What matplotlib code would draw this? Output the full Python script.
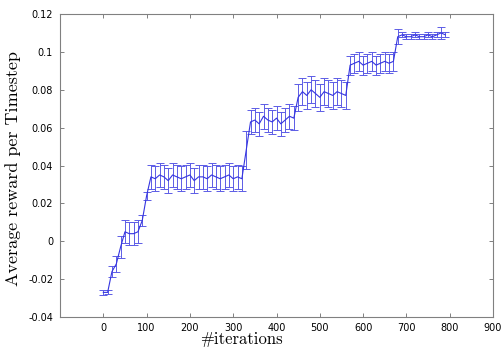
import matplotlib.pyplot as plt

iterations = [
    0, 10, 20, 30, 40, 50, 60, 70, 80, 90,
    100, 110, 120, 130, 140, 150, 160, 170, 180, 190,
    200, 210, 220, 230, 240, 250, 260, 270, 280, 290,
    300, 310, 320, 330, 340, 350, 360, 370, 380, 390,
    400, 410, 420, 430, 440, 450, 460, 470, 480, 490,
    500, 510, 520, 530, 540, 550, 560, 570, 580, 590,
    600, 610, 620, 630, 640, 650, 660, 670, 680, 690,
    700, 710, 720, 730, 740, 750, 760, 770, 780, 790,
]

mean_reward = [
    -0.027, -0.027, -0.016, -0.012, -0.003, 0.005, 0.004, 0.004, 0.005, 0.011,
    0.024, 0.034, 0.033, 0.035, 0.034, 0.032, 0.035, 0.034, 0.033, 0.034,
    0.035, 0.032, 0.034, 0.034, 0.033, 0.035, 0.034, 0.033, 0.034, 0.035,
    0.033, 0.034, 0.033, 0.048, 0.063, 0.064, 0.062, 0.066, 0.064, 0.063,
    0.065, 0.062, 0.064, 0.066, 0.065, 0.076, 0.079, 0.077, 0.080, 0.078,
    0.076, 0.079, 0.078, 0.077, 0.079, 0.078, 0.077, 0.093, 0.094, 0.095,
    0.093, 0.094, 0.095, 0.093, 0.094, 0.095, 0.094, 0.095, 0.108, 0.109,
    0.108, 0.108, 0.109, 0.108, 0.108, 0.109, 0.108, 0.109, 0.110, 0.109,
]

reward_err = [
    0.0015, 0.001, 0.003, 0.004, 0.006, 0.006, 0.006, 0.006, 0.006, 0.003,
    0.002, 0.0065, 0.0065, 0.0065, 0.0065, 0.0065, 0.0065, 0.0065, 0.0065, 0.0065,
    0.0065, 0.0065, 0.0065, 0.0065, 0.0065, 0.0065, 0.0065, 0.0065, 0.0065, 0.0065,
    0.0065, 0.0065, 0.0065, 0.010, 0.0065, 0.0065, 0.0065, 0.0065, 0.0065, 0.0065,
    0.0065, 0.0065, 0.0065, 0.0065, 0.0065, 0.007, 0.007, 0.007, 0.007, 0.007,
    0.007, 0.007, 0.007, 0.007, 0.007, 0.007, 0.007, 0.005, 0.005, 0.005,
    0.005, 0.005, 0.005, 0.005, 0.005, 0.005, 0.005, 0.005, 0.004, 0.0013,
    0.0013, 0.0013, 0.0013, 0.0013, 0.0013, 0.0013, 0.0013, 0.0013, 0.003, 0.0013,
]

xticks = [0, 100, 200, 300, 400, 500, 600, 700, 800, 900]
yticks = [-0.04, -0.02, 0, 0.02, 0.04, 0.06, 0.08, 0.1, 0.12]
ytick_labels = ['-0.04', '-0.02', '0', '0.02', '0.04', '0.06', '0.08', '0.1', '0.12']


def main():
    fig = plt.figure(figsize=(5.02, 3.49), dpi=100)
    ax = fig.add_axes([60 / 502, 1 - 317 / 349, 433 / 502, 303 / 349])

    ax.errorbar(iterations, mean_reward, yerr=reward_err, color='#3535e0',
                ecolor='#5c5ce6', elinewidth=0.7, lw=0.8, capsize=3, capthick=0.7)

    ax.set_xlim(-100, 900)
    ax.set_ylim(-0.04, 0.12)
    ax.set_xticks(xticks)
    ax.set_yticks(yticks)
    ax.set_yticklabels(ytick_labels)

    for side in ax.spines.values():
        side.set_color('#808080')
        side.set_linewidth(0.8)
    ax.tick_params(direction='in', length=3, width=0.7, color='#808080',
                   top=True, right=True, labelsize=7)
    ax.tick_params(axis='x', pad=4)
    ax.tick_params(axis='y', pad=5)

    ax.set_xlabel('#iterations', fontfamily='cmr10', fontsize=12)
    ax.set_ylabel('Average reward per Timestep', fontfamily='cmr10', fontsize=13)
    ax.xaxis.set_label_coords((241 - 60) / 433, -0.05)
    ax.yaxis.set_label_coords(-0.09, 0.49)

    fig.savefig('out.png', dpi=100)


if __name__ == '__main__':
    main()
